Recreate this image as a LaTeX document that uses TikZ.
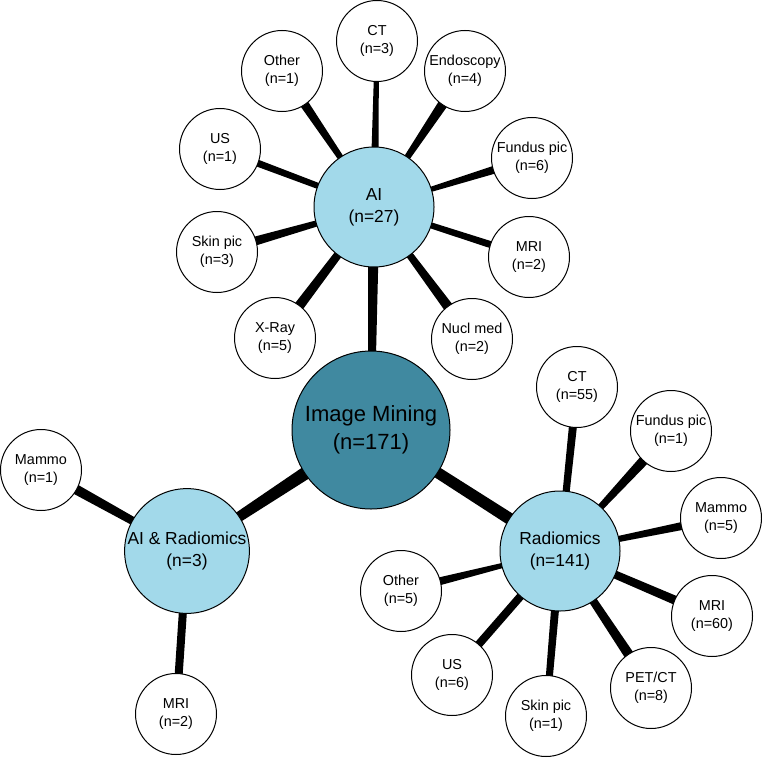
\documentclass[tikz,border=0pt]{standalone}
\usepackage{fontspec}
\setmainfont{Liberation Sans}
\usetikzlibrary{calc,backgrounds}
\definecolor{hubdark}{HTML}{4089A0}
\definecolor{hublight}{HTML}{A2D9EA}
% \taper{from}{to}{inset from}{inset to}{half width from}{half width to}
\newcommand\taper[6]{%
  \coordinate (tp) at ($(#1)!#3!(#2)$);
  \coordinate (tq) at ($(#2)!#4!(#1)$);
  \fill[black] ($(tp)!#5!90:(tq)$) -- ($(tp)!#5!-90:(tq)$) -- ($(tq)!#6!90:(tp)$) -- ($(tq)!#6!-90:(tp)$) -- cycle;}
\tikzset{
  leaf/.style={circle, draw=black, line width=1pt, fill=white, minimum size=81pt, inner sep=0pt, align=center, font=\fontsize{14.4}{18}\selectfont},
  hub/.style={circle, draw=black, line width=1pt, fill=hublight, minimum size=120pt, inner sep=0pt, align=center, font=\fontsize{17.4}{22}\selectfont},
  core/.style={circle, draw=black, line width=1pt, fill=hubdark, minimum size=158pt, inner sep=0pt, align=center, font=\fontsize{22}{28}\selectfont}
}
\begin{document}
\begin{tikzpicture}[x=1pt,y=-1pt]
\useasboundingbox (0,0) rectangle (762,757);
% main nodes
\node[core] (im) at (371,430) {Image Mining\\(n=171)};
\node[hub] (ai) at (374,207) {AI\\(n=27)};
\node[hub, minimum size=118pt] (air) at (187,551) {AI \& Radiomics\\(n=3)};
\node[hub] (rad) at (560,551) {Radiomics\\(n=141)};
% AI leaves
\node[leaf] (aict) at (377,41) {CT\\(n=3)};
\node[leaf] (aiother) at (282,71) {Other\\(n=1)};
\node[leaf] (aiendo) at (465,71) {Endoscopy\\(n=4)};
\node[leaf] (aius) at (220,149) {US\\(n=1)};
\node[leaf] (aifund) at (532,158) {Fundus pic\\(n=6)};
\node[leaf] (aiskin) at (217,252) {Skin pic\\(n=3)};
\node[leaf] (aimri) at (529,257) {MRI\\(n=2)};
\node[leaf] (aixray) at (275,338) {X-Ray\\(n=5)};
\node[leaf] (ainucl) at (472,339) {Nucl med\\(n=2)};
% Radiomics leaves
\node[leaf] (rct) at (577,387) {CT\\(n=55)};
\node[leaf] (rfund) at (671,431) {Fundus pic\\(n=1)};
\node[leaf] (rmammo) at (721,518) {Mammo\\(n=5)};
\node[leaf] (rmri) at (712,616) {MRI\\(n=60)};
\node[leaf] (rpet) at (651,688) {PET/CT\\(n=8)};
\node[leaf] (rskin) at (546,716) {Skin pic\\(n=1)};
\node[leaf] (rus) at (452,675) {US\\(n=6)};
\node[leaf] (rother) at (401,591) {Other\\(n=5)};
% AI & Radiomics leaves
\node[leaf] (armammo) at (41,470) {Mammo\\(n=1)};
\node[leaf] (armri) at (176,714) {MRI\\(n=2)};
\begin{scope}[on background layer]
\taper{im}{ai}{75pt}{56pt}{4pt}{5pt}
\taper{im}{rad}{75pt}{56pt}{5.5pt}{6pt}
\taper{im}{air}{75pt}{55pt}{6.5pt}{5pt}
\taper{ai}{aict}{56pt}{37pt}{3.5pt}{2.5pt}
\taper{ai}{aiother}{56pt}{37pt}{3pt}{4.5pt}
\taper{ai}{aiendo}{56pt}{37pt}{3pt}{5pt}
\taper{ai}{aius}{56pt}{37pt}{3pt}{3.5pt}
\taper{ai}{aifund}{56pt}{37pt}{2.5pt}{4pt}
\taper{ai}{aiskin}{56pt}{37pt}{3pt}{4.5pt}
\taper{ai}{aimri}{56pt}{37pt}{3pt}{3.5pt}
\taper{ai}{aixray}{56pt}{37pt}{4pt}{5pt}
\taper{ai}{ainucl}{56pt}{37pt}{3.5pt}{5pt}
\taper{rad}{rct}{56pt}{37pt}{3.5pt}{4pt}
\taper{rad}{rfund}{56pt}{37pt}{3.2pt}{5pt}
\taper{rad}{rmammo}{56pt}{37pt}{3pt}{4pt}
\taper{rad}{rmri}{56pt}{37pt}{4pt}{4.5pt}
\taper{rad}{rpet}{56pt}{37pt}{4pt}{5pt}
\taper{rad}{rskin}{56pt}{37pt}{4pt}{3.5pt}
\taper{rad}{rus}{56pt}{37pt}{4pt}{4pt}
\taper{rad}{rother}{56pt}{37pt}{2.5pt}{4pt}
\taper{air}{armammo}{55pt}{37pt}{4pt}{5pt}
\taper{air}{armri}{55pt}{37pt}{4pt}{4pt}
\end{scope}
\end{tikzpicture}
\end{document}
